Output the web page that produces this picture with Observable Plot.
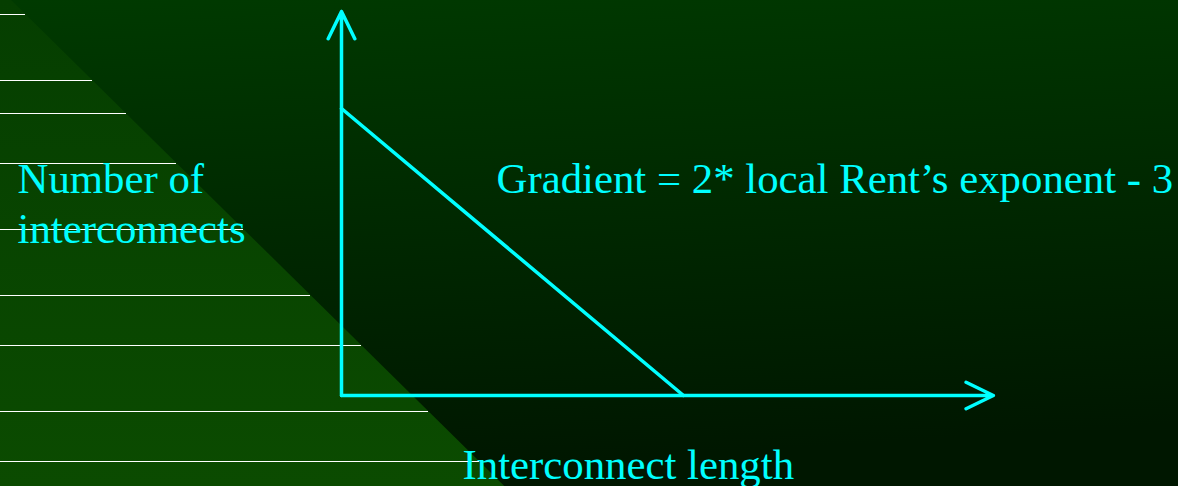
<!DOCTYPE html>
<html>
<head>
<meta charset="utf-8">
<script src="https://cdn.jsdelivr.net/npm/d3@7"></script>
<script src="https://cdn.jsdelivr.net/npm/@observablehq/plot@0.6"></script>
<style>
  html, body { margin: 0; padding: 0; background: #002a00; overflow: hidden; }
  #chart svg { display: block; }
</style>
</head>
<body>
<div id="chart"></div>
<script>
// Schematic log–log distribution: interconnect length vs number of interconnects
const lengths = [0, 1];          // normalised log length
const counts = [1, 0];           // normalised log count
const xAxisSpan = [0, 1.906];    // horizontal axis (arrow) extent, in length units
const yAxisSpan = [0, 1.338];    // vertical axis (arrow) extent, in count units
const yLabel = "Number of\ninterconnects";
const xLabel = "Interconnect length";
const note = "Gradient = 2* local Rent\u2019s exponent - 3";
// slide-template ruled lines (pixel rows)
const templateRules = [14, 80, 113, 163, 229, 295, 345, 411, 461];

const cyan = "#00ffff";
const serif = "'Liberation Serif', 'Times New Roman', serif";
const fontSize = 42.8;

const lineData = lengths.map((d, i) => ({length: d, count: counts[i]}));
const axesData = [
  {x1: xAxisSpan[0], y1: 0, x2: xAxisSpan[1], y2: 0},
  {x1: 0, y1: yAxisSpan[0], x2: 0, y2: yAxisSpan[1]}
];

// decorative slide background (gradient, lighter diagonal panel, ruled lines)
function background(index, scales, values, dims) {
  const W = dims.width, H = dims.height;
  const edge = y => 11 + 1.015 * y;   // diagonal edge of the lighter panel
  const g = d3.create("svg:g");
  const defs = g.append("defs");
  const gd = defs.append("linearGradient").attr("id", "bgDark")
    .attr("x1", 0).attr("y1", 0).attr("x2", 0.15).attr("y2", 1);
  gd.append("stop").attr("offset", 0).attr("stop-color", "#003a00");
  gd.append("stop").attr("offset", 1).attr("stop-color", "#001700");
  const gl = defs.append("linearGradient").attr("id", "bgLight")
    .attr("x1", 0).attr("y1", 0).attr("x2", 0).attr("y2", 1);
  gl.append("stop").attr("offset", 0).attr("stop-color", "#053e00");
  gl.append("stop").attr("offset", 1).attr("stop-color", "#0b4b00");
  g.append("rect").attr("width", W).attr("height", H).attr("fill", "url(#bgDark)");
  g.append("polygon")
    .attr("points", `0,0 ${edge(0)},0 ${edge(H)},${H} 0,${H}`)
    .attr("fill", "url(#bgLight)");
  g.append("g").attr("stroke", "#ffffff").attr("stroke-width", 1).attr("shape-rendering", "crispEdges")
    .selectAll("line").data(templateRules).join("line")
    .attr("x1", 0).attr("x2", d => edge(d))
    .attr("y1", d => d + 0.5).attr("y2", d => d + 0.5);
  return g.node();
}

const chart = Plot.plot({
  width: 1178,
  height: 486,
  margin: 0,
  x: {type: "linear", domain: [0, 1], range: [341, 683], axis: null},
  y: {type: "linear", domain: [0, 1], range: [395, 108], axis: null},
  style: {background: "transparent", overflow: "visible"},
  marks: [
    background,
    Plot.line(lineData, {x: "length", y: "count", stroke: cyan, strokeWidth: 3.5, strokeLinecap: "round"}),
    Plot.arrow(axesData, {
      x1: "x1", y1: "y1", x2: "x2", y2: "y2",
      stroke: cyan, strokeWidth: 3.5, headLength: 13, headAngle: 52,
      strokeLinecap: "round", strokeLinejoin: "round"
    }),
    Plot.text([yLabel], {
      text: d => d, frameAnchor: "top-left", dx: 17, dy: 242,
      textAnchor: "start", lineAnchor: "bottom", lineHeight: 1.16,
      fontSize, fontFamily: serif, fill: cyan
    }),
    Plot.text([note], {
      text: d => d, frameAnchor: "top-left", dx: 496, dy: 192,
      textAnchor: "start", lineAnchor: "bottom",
      fontSize, fontFamily: serif, fill: cyan
    }),
    Plot.text([xLabel], {
      text: d => d, frameAnchor: "top-left", dx: 462, dy: 478,
      textAnchor: "start", lineAnchor: "bottom",
      fontSize, fontFamily: serif, fill: cyan
    })
  ]
});

document.getElementById("chart").appendChild(chart);
</script>
</body>
</html>
